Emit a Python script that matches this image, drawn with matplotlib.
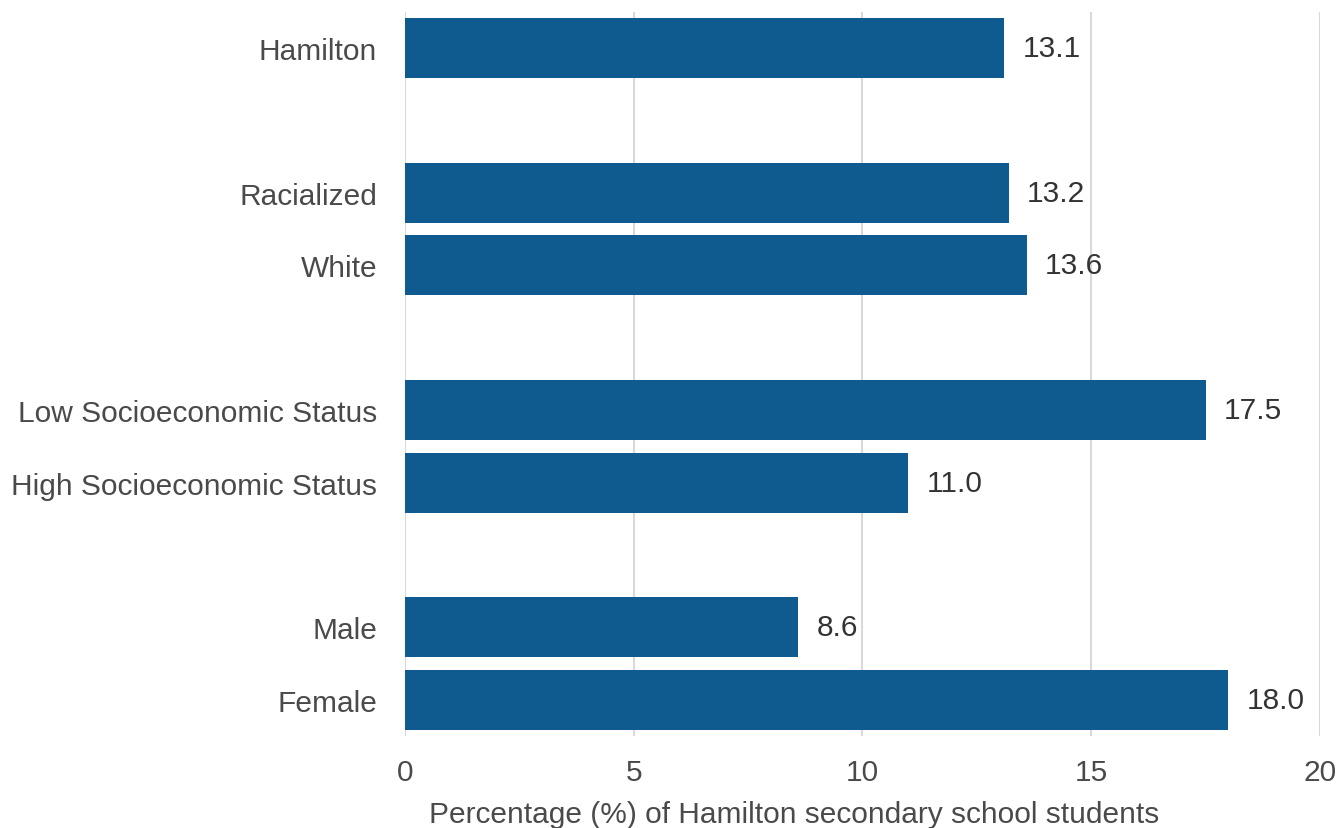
import matplotlib
matplotlib.use("Agg")
import matplotlib.pyplot as plt

categories = ["Hamilton", "Racialized", "White", "Low Socioeconomic Status",
              "High Socioeconomic Status", "Male", "Female"]
values = [13.1, 13.2, 13.6, 17.5, 11.0, 8.6, 18.0]
positions = [0, 2, 3, 5, 6, 8, 9]
xticks = [0, 5, 10, 15, 20]
xlabel = "Percentage (%) of Hamilton secondary school students"

plt.rcParams["font.family"] = ["Liberation Sans", "DejaVu Sans"]
FS = 21.5

fig = plt.figure(figsize=(13.38, 8.29), dpi=100)
ax = fig.add_axes([0.3027, 0.111, 0.6838, 0.8733])

bar_color = "#0F5A8F"
ax.barh(positions, values, height=0.83, color=bar_color, zorder=3)

for p, v in zip(positions, values):
    ax.annotate(f"{v:.1f}", xy=(v, p), xytext=(13, 0), textcoords="offset points",
                va="center", ha="left", fontsize=FS, color="#333333")

ax.set_xlim(0, 20)
ax.set_ylim(9.5, -0.5)
ax.set_xticks(xticks)
ax.set_xticklabels([str(t) for t in xticks])
ax.set_yticks(positions)
ax.set_yticklabels(categories)
ax.tick_params(axis="both", length=0, labelsize=FS, labelcolor="#4a4a4a")
ax.tick_params(axis="y", pad=20)
ax.tick_params(axis="x", pad=16)
ax.xaxis.grid(True, color="#d9d9d9", linewidth=1.5, zorder=0)
for s in ax.spines.values():
    s.set_visible(False)
ax.set_xlabel(xlabel, fontsize=FS, color="#4a4a4a", va="center")
ax.xaxis.set_label_coords(0.425, -0.108)

fig.savefig("out.png", dpi=100, facecolor="white")
